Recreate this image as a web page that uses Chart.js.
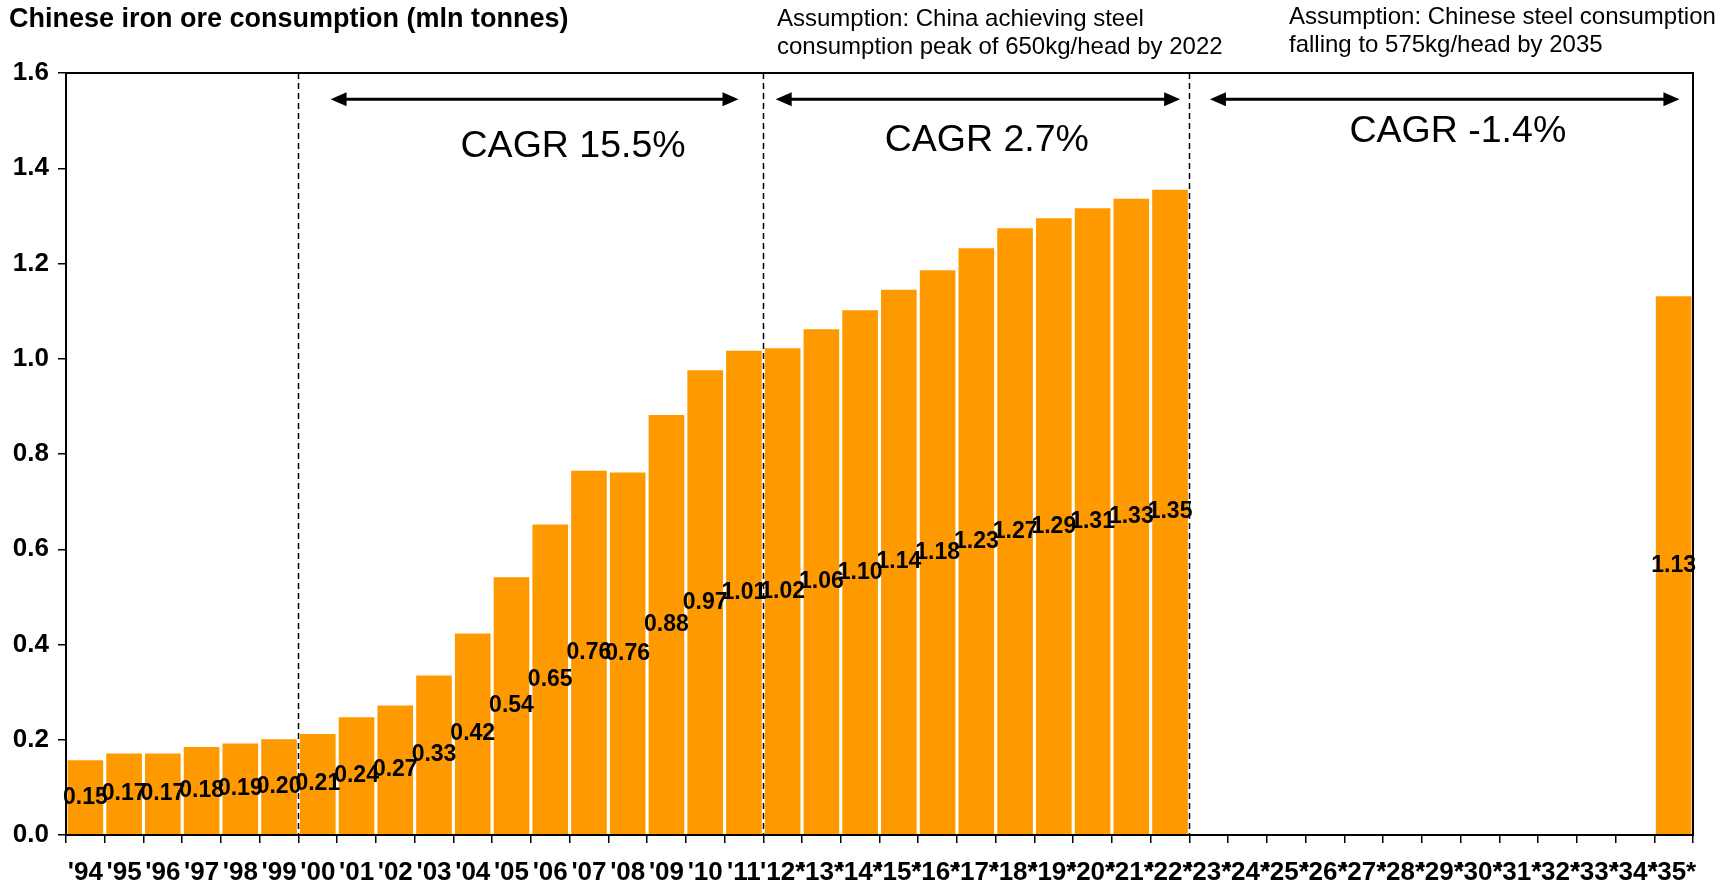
<!DOCTYPE html>
<html>
<head>
<meta charset="utf-8">
<script src="https://cdn.jsdelivr.net/npm/chart.js@4/dist/chart.umd.min.js"></script>
<style>
  body { margin: 0; background: #fff; }
  canvas { display: block; }
</style>
</head>
<body>
<canvas id="myChart" width="1728" height="884"></canvas>
<script>
// categories (years, * = forecast)
var years = ["'94", "'95", "'96", "'97", "'98", "'99", "'00", "'01", "'02", "'03", "'04",
    "'05", "'06", "'07", "'08", "'09", "'10", "'11", "'12*", "'13*", "'14*", "'15*",
    "'16*", "'17*", "'18*", "'19*", "'20*", "'21*", "'22*", "'23*", "'24*", "'25*",
    "'26*", "'27*", "'28*", "'29*", "'30*", "'31*", "'32*", "'33*", "'34*", "'35*"];

// consumption, bn tonnes (axis says mln)
var consumo = [0.157, 0.171, 0.171, 0.185, 0.192, 0.201, 0.212, 0.247, 0.272, 0.335, 0.423,
    0.541, 0.652, 0.765, 0.761, 0.882, 0.976, 1.017, 1.022, 1.062, 1.102, 1.145,
    1.186, 1.232, 1.274, 1.295, 1.316, 1.336, 1.355, null, null, null,
    null, null, null, null, null, null, null, null, null, 1.131];

var yTicks = [0, 0.2, 0.4, 0.6, 0.8, 1.0, 1.2, 1.4, 1.6];

// periods: dashed separators (after category index), arrows and CAGR text
var separadores = [6, 18, 29];
var flechas = [[6.83, 17.36], [18.32, 28.76], [29.53, 41.65]];
var cagrTextos = ['CAGR 15.5%', 'CAGR 2.7%', 'CAGR -1.4%'];
var cagrPos = [[13.09, 1.445], [23.77, 1.457], [35.93, 1.476]];

var FONT = "'Liberation Sans', Arial, sans-serif";

function etiqueta(v) {
    // labels in the original look truncated, not rounded
    return (Math.floor(v * 100 + 1e-6) / 100).toFixed(2);
}

var extras = {
    id: 'extras',
    afterDatasetsDraw: function (chart) {
        var ctx = chart.ctx;
        var area = chart.chartArea;
        var y = chart.scales.y;
        var w = (area.right - area.left) / years.length;
        var xAt = function (v) { return area.left + v * w; };

        ctx.save();

        // data labels, centred in each bar
        ctx.fillStyle = '#000';
        ctx.font = 'bold 23px ' + FONT;
        ctx.textAlign = 'center';
        ctx.textBaseline = 'middle';
        chart.getDatasetMeta(0).data.forEach(function (bar, i) {
            if (consumo[i] == null) return;
            ctx.fillText(etiqueta(consumo[i]), bar.x, (bar.y + bar.base) / 2);
        });

        // dashed period separators
        ctx.strokeStyle = '#000';
        ctx.lineWidth = 1.5;
        ctx.setLineDash([6, 4]);
        separadores.forEach(function (s) {
            var px = Math.round(xAt(s)) + 0.5;
            ctx.beginPath();
            ctx.moveTo(px, area.top);
            ctx.lineTo(px, area.bottom);
            ctx.stroke();
        });
        ctx.setLineDash([]);

        // frame (top and right)
        ctx.lineWidth = 2;
        ctx.strokeRect(area.left, area.top, area.right - area.left, area.bottom - area.top);

        // double-headed arrows
        var ay = y.getPixelForValue(1.545);
        flechas.forEach(function (f) {
            var x1 = xAt(f[0]), x2 = xAt(f[1]);
            ctx.lineWidth = 3;
            ctx.beginPath();
            ctx.moveTo(x1 + 10, ay);
            ctx.lineTo(x2 - 10, ay);
            ctx.stroke();
            ctx.beginPath();
            ctx.moveTo(x1, ay);
            ctx.lineTo(x1 + 16, ay - 7);
            ctx.lineTo(x1 + 16, ay + 7);
            ctx.closePath();
            ctx.fill();
            ctx.beginPath();
            ctx.moveTo(x2, ay);
            ctx.lineTo(x2 - 16, ay - 7);
            ctx.lineTo(x2 - 16, ay + 7);
            ctx.closePath();
            ctx.fill();
        });

        // CAGR texts
        ctx.font = '37.5px ' + FONT;
        ctx.textAlign = 'center';
        ctx.textBaseline = 'middle';
        cagrTextos.forEach(function (t, i) {
            ctx.fillText(t, xAt(cagrPos[i][0]), y.getPixelForValue(cagrPos[i][1]));
        });

        // title and assumptions above the plot
        ctx.textAlign = 'left';
        ctx.font = 'bold 27px ' + FONT;
        ctx.fillText('Chinese iron ore consumption (mln tonnes)', 9, 20);
        ctx.font = '24px ' + FONT;
        ctx.fillText('Assumption: China achieving steel', 777, 19);
        ctx.fillText('consumption peak of 650kg/head by 2022', 777, 47);
        ctx.fillText('Assumption: Chinese steel consumption', 1289, 17);
        ctx.fillText('falling to 575kg/head by 2035', 1289, 45);

        ctx.restore();
    }
};

var myChart = new Chart(document.getElementById('myChart').getContext('2d'), {
    type: 'bar',
    data: {
        labels: years,
        datasets: [{
            label: 'Chinese iron ore consumption',
            data: consumo,
            backgroundColor: '#FF9900',
            borderWidth: 0,
            categoryPercentage: 1.0,
            barPercentage: 0.92
        }]
    },
    options: {
        responsive: false,
        animation: false,
        layout: { padding: { top: 73, right: 35, left: 0, bottom: 0 } },
        plugins: {
            legend: { display: false },
            tooltip: { enabled: false }
        },
        scales: {
            x: {
                afterFit: function (s) { s.height = 49; },
                border: { color: '#000', width: 2 },
                grid: { offset: true, drawOnChartArea: false, color: '#000', lineWidth: 1.5, tickLength: 8 },
                ticks: {
                    color: '#000',
                    font: { family: FONT, size: 26, weight: 'bold' },
                    maxRotation: 0, minRotation: 0, autoSkip: false, padding: 14
                }
            },
            y: {
                min: 0,
                max: 1.6,
                afterFit: function (s) { s.width = 66; },
                afterBuildTicks: function (s) { s.ticks = yTicks.map(function (v) { return { value: v }; }); },
                border: { color: '#000', width: 2 },
                grid: { drawOnChartArea: false, color: '#000', lineWidth: 1.5, tickLength: 8 },
                ticks: {
                    color: '#000',
                    font: { family: FONT, size: 26, weight: 'bold' },
                    padding: 9,
                    callback: function (v) { return Number(v).toFixed(1); }
                }
            }
        }
    },
    plugins: [extras]
});
</script>
</body>
</html>
